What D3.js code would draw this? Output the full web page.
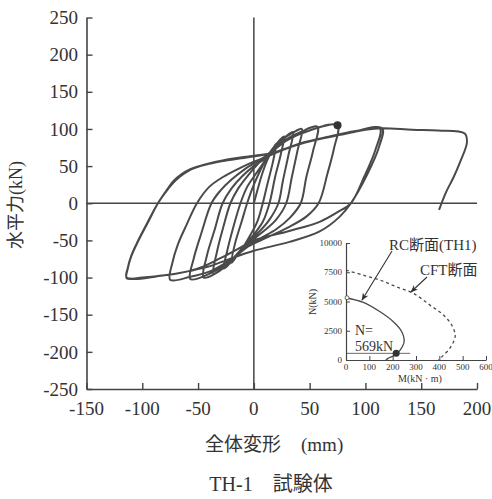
<!DOCTYPE html>
<html><head><meta charset="utf-8">
<script src="https://cdn.jsdelivr.net/npm/d3@7"></script>
<style>body{margin:0;background:#fff} svg{display:block}</style>
</head><body>
<svg id="c" width="492" height="499"></svg>
<script>
// ---- data ----
const xTicks = [-150, -100, -50, 0, 50, 100, 150, 200];
const yTicks = [-250, -200, -150, -100, -50, 0, 50, 100, 150, 200, 250];
const xLabel = "全体変形";
const xUnit = "(mm)";
const yLabel = "水平力(kN)";
const title = "TH-1　試験体";

// hysteresis loops: displacement (mm), horizontal force (kN)
const hysteresis = [
  [0,0],[4,22],[8,42],[12,58],[16,70],[20,80],
  [17,55],[12,25],[8,0],[3,-25],[-4,-45],[-10,-60],[-15,-70],[-20,-80],
  [-17,-55],[-11,-25],[-6,0],[0,25],[6,45],[11,60],[16,72],[22,83],[27,90],
  [24,65],[19,35],[14,0],[8,-25],[0,-42],[-8,-57],[-15,-70],[-21,-80],[-27,-88],
  [-24,-65],[-18,-30],[-12,0],[-6,22],[2,40],[9,55],[15,68],[25,85],[35,96],
  [31,65],[26,30],[22,0],[14,-22],[5,-38],[-5,-52],[-13,-65],[-22,-80],[-36,-95],
  [-33,-65],[-27,-30],[-21,0],[-14,20],[-5,38],[5,55],[14,68],[25,85],[35,95],[43,100],
  [39,70],[34,35],[29,0],[20,-22],[10,-36],[0,-48],[-10,-60],[-16,-70],[-28,-88],[-45,-100],
  [-42,-70],[-35,-35],[-28,0],[-20,20],[-10,37],[0,50],[10,60],[15,68],[28,85],[42,96],[57,103],
  [53,70],[47,35],[42,0],[32,-20],[20,-35],[5,-48],[-8,-60],[-15,-70],[-25,-82],[-40,-95],[-57,-102],
  [-54,-75],[-47,-40],[-38,0],[-30,17],[-20,32],[-8,46],[5,58],[15,68],[30,85],[50,98],[75,105],
  [72,75],[66,40],[58,0],[47,-18],[30,-33],[12,-46],[-5,-58],[-15,-70],[-25,-80],[-40,-92],[-57,-99],[-75,-103],
  [-73,-80],[-68,-55],[-60,-28],[-51,0],[-40,22],[-28,35],[-13,47],[0,56],[14,64],[23,70],[45,82],[68,90],[90,97],[115,101],
  [112,75],[102,40],[87,0],[77,-18],[59,-38],[32,-52],[0,-64],[-20,-74],[-40,-85],[-57,-91],[-80,-97],[-100,-100],[-114,-101],
  [-113,-88],[-110,-72],[-104,-52],[-95,-26],[-86,0],[-78,18],[-72,30],[-65,39],[-57,46],[-42,53],[-27,58],[-5,63],[15,67],[23,70],[45,82],[68,89],[90,96],[113,101],
  [109,72],[99,36],[87,0],[75,-12],[59,-25],[30,-38],[0,-50],[-15,-62],[-30,-74],[-45,-85],[-60,-92],[-80,-97],[-114,-100],
  [-113,-87],[-110,-71],[-104,-51],[-95,-25],[-86,0],[-77,19],[-70,31],[-57,45],[-40,53],[-27,57],[-5,62],[15,67],[40,79],[70,90],[100,99],[115,101],[142,99],[165,98],[189,94],
  [191,82],[185,56],[179,35],[172,14],[166,-9]
];
const peakPoint = [75, 105];

// inset: M-N interaction
const insetXTicks = [0, 100, 200, 300, 400, 500, 600];
const insetYTicks = [0, 2500, 5000, 7500, 10000];
const insetXLabel = "M(kN · m)";
const insetYLabel = "N(kN)";
const rcCurve = [[0,5320],[74,4920],[146,4120],[203,3270],[239,2420],[249,1560],[232,850],[210,430],[180,140],[168,-80]];
const cftCurve = [[0,7680],[74,7250],[146,6830],[217,6250],[289,5690],[360,4690],[418,3840],[453,2990],[468,2130],[461,1560],[439,850],[411,280],[396,0]];
const axialLoad = 569;
const axialLineEnd = 275;
const axialDot = [215, 569];
const rcLabel = "RC断面(TH1)";
const cftLabel = "CFT断面";
const nLabel1 = "N=";
const nLabel2 = "569kN";

// ---- drawing ----
const svg = d3.select("#c");
const ink = "#444";
const lineInk = "#4a4a4a";
const serif = "'Liberation Serif','Times New Roman','Noto Sans CJK JP',serif";

const x = d3.scaleLinear().domain([-150, 200]).range([86.5, 477]);
const y = d3.scaleLinear().domain([-250, 250]).range([389, 17.5]);

// left axis (ticks inward)
const gy = svg.append("g").attr("transform", `translate(${x(-150)},0)`)
  .call(d3.axisRight(y).tickValues(yTicks).tickSize(6).tickSizeOuter(0).tickFormat(""));
gy.select(".domain").attr("stroke", ink).attr("stroke-width", 1.6);
gy.selectAll(".tick line").attr("stroke", ink).attr("stroke-width", 1.4);
// bottom axis (ticks inward)
const gx = svg.append("g").attr("transform", `translate(0,${y(-250)})`)
  .call(d3.axisTop(x).tickValues(xTicks).tickSize(6).tickSizeOuter(0).tickFormat(""));
gx.select(".domain").attr("stroke", ink).attr("stroke-width", 1.6);
gx.selectAll(".tick line").attr("stroke", ink).attr("stroke-width", 1.4);

// tick labels
svg.append("g").selectAll("text").data(yTicks).join("text")
  .attr("x", 78).attr("y", d => y(d)).attr("dy", "0.35em")
  .attr("text-anchor", "end").attr("font-family", serif).attr("font-size", 19).attr("fill", "#333")
  .text(d => d);
svg.append("g").selectAll("text").data(xTicks).join("text")
  .attr("x", d => x(d)).attr("y", 415)
  .attr("text-anchor", "middle").attr("font-family", serif).attr("font-size", 19).attr("fill", "#333")
  .text(d => d);

// zero lines
svg.append("line").attr("x1", x(-150)).attr("x2", x(200)).attr("y1", y(0)).attr("y2", y(0))
  .attr("stroke", ink).attr("stroke-width", 1.5);
svg.append("line").attr("x1", x(0)).attr("x2", x(0)).attr("y1", y(250)).attr("y2", y(-250))
  .attr("stroke", ink).attr("stroke-width", 1.5);

// hysteresis curve
const line = d3.line().x(d => x(d[0])).y(d => y(d[1])).curve(d3.curveCatmullRom.alpha(0.5));
svg.append("path").datum(hysteresis).attr("d", line)
  .attr("fill", "none").attr("stroke", lineInk).attr("stroke-width", 2).attr("stroke-linejoin", "round");
svg.append("circle").attr("cx", x(peakPoint[0])).attr("cy", y(peakPoint[1])).attr("r", 4).attr("fill", "#333");

// axis titles
svg.append("text").attr("transform", `translate(22,205) rotate(-90)`)
  .attr("text-anchor", "middle").attr("font-family", serif).attr("font-size", 18).attr("fill", "#333")
  .text(yLabel);
const xt = svg.append("text").attr("y", 451).attr("font-family", serif).attr("font-size", 19).attr("fill", "#333");
xt.append("tspan").attr("x", 205).text(xLabel);
xt.append("tspan").attr("x", 301).text(xUnit);
svg.append("text").attr("x", 271).attr("y", 491).attr("text-anchor", "middle")
  .attr("font-family", serif).attr("font-size", 20).attr("fill", "#333").text(title);

// ---- inset ----
const ix = d3.scaleLinear().domain([0, 600]).range([346, 486]);
const iy = d3.scaleLinear().domain([0, 10000]).range([360, 243]);
const giy = svg.append("g").attr("transform", `translate(${ix(0)},0)`)
  .call(d3.axisRight(iy).tickValues(insetYTicks).tickSize(4).tickSizeOuter(0).tickFormat(""));
giy.select(".domain").attr("stroke", ink).attr("stroke-width", 1.2);
giy.selectAll(".tick line").attr("stroke", ink).attr("stroke-width", 1);
const gix = svg.append("g").attr("transform", `translate(0,${iy(0)})`)
  .call(d3.axisTop(ix).tickValues(insetXTicks).tickSize(4).tickSizeOuter(0).tickFormat(""));
gix.select(".domain").attr("stroke", ink).attr("stroke-width", 1.2);
gix.selectAll(".tick line").attr("stroke", ink).attr("stroke-width", 1);
svg.append("g").selectAll("text").data(insetYTicks).join("text")
  .attr("x", 342).attr("y", d => iy(d)).attr("dy", "0.35em").attr("text-anchor", "end")
  .attr("font-family", serif).attr("font-size", 9).attr("fill", "#333").text(d => d);
svg.append("g").selectAll("text").data(insetXTicks).join("text")
  .attr("x", d => ix(d)).attr("y", 370).attr("text-anchor", "middle")
  .attr("font-family", serif).attr("font-size", 9).attr("fill", "#333").text(d => d);
svg.append("text").attr("x", 420).attr("y", 382).attr("text-anchor", "middle")
  .attr("font-family", serif).attr("font-size", 10).attr("fill", "#333").text(insetXLabel);
svg.append("text").attr("transform", `translate(316,302) rotate(-90)`).attr("text-anchor", "middle")
  .attr("font-family", serif).attr("font-size", 10).attr("fill", "#333").text(insetYLabel);

const iline = d3.line().x(d => ix(d[0])).y(d => iy(d[1])).curve(d3.curveCatmullRom.alpha(0.5));
svg.append("path").datum(rcCurve).attr("d", iline).attr("fill", "none").attr("stroke", lineInk).attr("stroke-width", 1.3);
svg.append("path").datum(cftCurve).attr("d", iline).attr("fill", "none").attr("stroke", lineInk)
  .attr("stroke-width", 1.3).attr("stroke-dasharray", "3,3");
svg.append("line").attr("x1", ix(0)).attr("x2", ix(axialLineEnd)).attr("y1", iy(axialLoad)).attr("y2", iy(axialLoad))
  .attr("stroke", ink).attr("stroke-width", 0.8);
svg.append("circle").attr("cx", ix(axialDot[0])).attr("cy", iy(axialDot[1])).attr("r", 3.5).attr("fill", "#333");
svg.append("circle").attr("cx", ix(rcCurve[0][0]) + 1).attr("cy", iy(rcCurve[0][1])).attr("r", 2)
  .attr("fill", "#fff").attr("stroke", ink).attr("stroke-width", 0.8);

// annotations
const defs = svg.append("defs");
defs.append("marker").attr("id", "ah").attr("viewBox", "0 0 10 10").attr("refX", 9).attr("refY", 5)
  .attr("markerWidth", 7).attr("markerHeight", 7).attr("orient", "auto")
  .append("path").attr("d", "M0,1 L10,5 L0,9 L3,5 Z").attr("fill", "#333");
svg.append("line").attr("x1", 392).attr("y1", 251).attr("x2", 362).attr("y2", 300)
  .attr("stroke", "#333").attr("stroke-width", 1.1).attr("marker-end", "url(#ah)");
svg.append("line").attr("x1", 427).attr("y1", 277).attr("x2", 411).attr("y2", 292)
  .attr("stroke", "#333").attr("stroke-width", 1.1).attr("marker-end", "url(#ah)");
svg.append("text").attr("x", 389).attr("y", 250).attr("font-family", serif).attr("font-size", 15).attr("fill", "#333").text(rcLabel);
svg.append("text").attr("x", 420).attr("y", 275).attr("font-family", serif).attr("font-size", 15).attr("fill", "#333").text(cftLabel);
svg.append("text").attr("x", 355).attr("y", 335).attr("font-family", serif).attr("font-size", 14).attr("fill", "#333").text(nLabel1);
svg.append("text").attr("x", 355).attr("y", 351).attr("font-family", serif).attr("font-size", 14).attr("fill", "#333").text(nLabel2);
</script>
</body></html>
